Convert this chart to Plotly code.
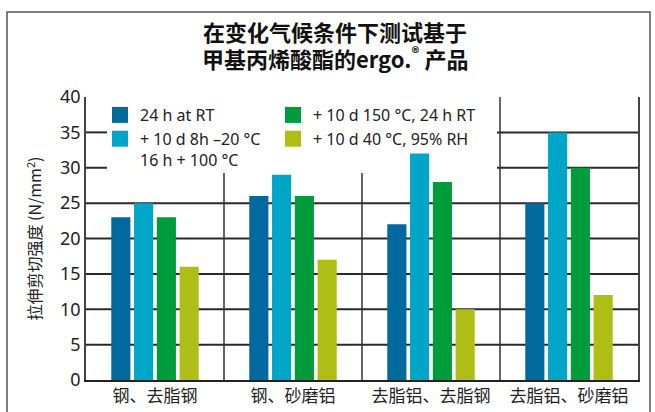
import plotly.graph_objects as go

categories = ["钢、去脂钢", "钢、砂磨铝", "去脂铝、去脂钢", "去脂铝、砂磨铝"]
series_names = ["24 h at RT", "+ 10 d 8h –20 °C<br>16 h + 100 °C", "+ 10 d 150 °C, 24 h RT", "+ 10 d 40 °C, 95% RH"]
s_rt = [23, 26, 22, 25]
s_cycle = [25, 29, 32, 35]
s_150 = [23, 26, 28, 30]
s_humid = [16, 17, 10, 12]
colors = ["#006A9E", "#00A5C8", "#009C3B", "#AEBE14"]
legend_group = ["legend", "legend", "legend2", "legend2"]
y_ticks = [0, 5, 10, 15, 20, 25, 30, 35, 40]
title_lines = ["<b>在变化气候条件下测试基于</b>", "<b>甲基丙烯酸酯的ergo.<sup>®</sup> 产品</b>"]

LAT = "Noto Sans, Noto Sans CJK SC"
CJK = "Noto Sans CJK SC"

W, H = 655, 412
L, R, T, B = 86, 17, 97, 32
pw, ph = W - L - R, H - T - B

def px_x(p):
    return (p - L) / pw

def px_y(p):
    return (H - B - p) / ph

# legend backdrop region (grid hidden there), in main-axis units
leg_x0, leg_x1 = px_x(107), px_x(497)
leg_ybot = px_y(173) * 40

fig = go.Figure()

# horizontal grid lines on the main (hidden, 0..1) x axis, beneath the bar subplot
hx, hy = [], []
for v in y_ticks[1:-1]:
    if v > leg_ybot:
        hx += [0, leg_x0, None, leg_x1, 1, None]
        hy += [v, v, None, v, v, None]
    else:
        hx += [0, 1, None]
        hy += [v, v, None]
fig.add_trace(go.Scatter(x=hx, y=hy, mode="lines", line=dict(color="#2a2a2a", width=2),
                         hoverinfo="skip", showlegend=False, xaxis="x", yaxis="y"))
# vertical group separators
vx, vy = [], []
n = len(categories)
for k in range(1, n):
    xb = k / n
    top = leg_ybot if leg_x0 < xb < leg_x1 else y_ticks[-1]
    vx += [xb, xb, None]
    vy += [0, top, None]
fig.add_trace(go.Scatter(x=vx, y=vy, mode="lines", line=dict(color="#333", width=1.5),
                         hoverinfo="skip", showlegend=False, xaxis="x", yaxis="y"))

for name, vals, col in zip(series_names, [s_rt, s_cycle, s_150, s_humid], colors):
    fig.add_trace(go.Bar(x=categories, y=vals, name=name, marker_color=col,
                         marker_line_width=0, showlegend=False, xaxis="x2", yaxis="y"))
# legend-only entries (larger square symbols)
for name, col, lg in zip(series_names, colors, legend_group):
    fig.add_trace(go.Scatter(x=[None], y=[None], mode="markers", name=name,
                             marker=dict(symbol="square", size=16, color=col),
                             legend=lg, showlegend=True, xaxis="x2", yaxis="y"))

shapes = [
    # outer frame
    dict(type="rect", xref="paper", yref="paper", x0=px_x(7), x1=px_x(650),
         y0=px_y(420), y1=px_y(12), line=dict(color="#555", width=1.5),
         fillcolor="rgba(0,0,0,0)", layer="above"),
]

annotations = []
for i, t in enumerate(title_lines):
    annotations.append(dict(text=t, xref="paper", yref="paper", x=px_x(335),
                            y=px_y(31 + 27 * i), xanchor="center", yanchor="middle",
                            showarrow=False, font=dict(family=CJK, size=22, color="#111")))

leg_common = dict(orientation="v", yanchor="top", xanchor="left",
                  bgcolor="rgba(0,0,0,0)", valign="top", itemclick=False,
                  tracegroupgap=0, font=dict(family=LAT, size=16, color="#222"))

fig.update_layout(
    width=W, height=H,
    margin=dict(l=L, r=R, t=T, b=B, autoexpand=False),
    paper_bgcolor="white", plot_bgcolor="white",
    barmode="group", bargap=0.34, bargroupgap=0.16,
    showlegend=True,
    legend=dict(x=px_x(100), y=px_y(98), **leg_common),
    legend2=dict(x=px_x(273), y=px_y(98), **leg_common),
    shapes=shapes,
    annotations=annotations,
    xaxis=dict(range=[0, 1], visible=False, showgrid=False, zeroline=False,
               automargin=False),
    xaxis2=dict(overlaying="x", anchor="y", side="bottom", showgrid=False,
                showline=True, linecolor="#222", linewidth=2,
                ticks="", ticklabelstandoff=0, automargin=False,
                tickfont=dict(family=CJK, size=17, color="#222"),
                zeroline=False),
    yaxis=dict(type="linear", range=[0, 40], tickvals=y_ticks, showgrid=False,
               zeroline=False, showline=True,
               linecolor="#444", linewidth=1.5, mirror=True, ticks="",
               automargin=False,
               tickfont=dict(family=LAT, size=18, color="#222"),
               title=dict(text="拉伸剪切强度 (N/mm<sup>2</sup>)", standoff=14,
                          font=dict(family=CJK, size=16, color="#222"))),
    yaxis2=dict(overlaying="y", side="right", anchor="x", range=[0, 40],
                showline=True, linecolor="#444", linewidth=1.5,
                showticklabels=False, showgrid=False, zeroline=False,
                automargin=False),
)

fig.write_html("out.html")
